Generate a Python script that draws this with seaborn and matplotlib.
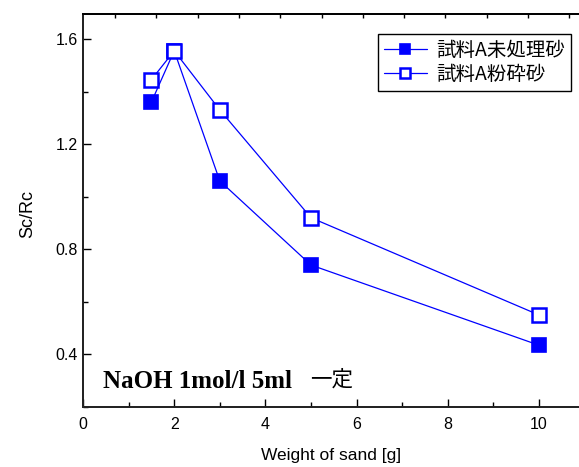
import numpy as np
import pandas as pd
import matplotlib
matplotlib.use("Agg")
import matplotlib.pyplot as plt
import seaborn as sns
from matplotlib.ticker import MultipleLocator

# data
sand_weight = [1.5, 2, 3, 5, 10]
untreated = [1.36, 1.555, 1.06, 0.74, 0.435]
crushed = [1.445, 1.555, 1.33, 0.92, 0.55]
label_untreated = "試料A未処理砂"
label_crushed = "試料A粉砕砂"
note_text = "NaOH 1mol/l 5ml"
note_jp = "一定"

sns.set_theme(style="ticks")
plt.rcParams['font.family'] = ['Liberation Sans', 'Noto Sans CJK JP', 'DejaVu Sans']
plt.rcParams['text.color'] = "black"
plt.rcParams['axes.labelcolor'] = "black"

fig = plt.figure(figsize=(5.79, 4.67), dpi=100)
ax = fig.add_axes([83 / 579, 1 - 407 / 467, 1 - 83 / 579, (407 - 14) / 467])

blue = "#0000ff"
sns.lineplot(x=sand_weight, y=untreated, ax=ax, color=blue, lw=0.9,
             marker="s", markersize=10, markerfacecolor=blue,
             markeredgecolor=blue, markeredgewidth=1.2, label=label_untreated)
sns.lineplot(x=sand_weight, y=crushed, ax=ax, color=blue, lw=0.9,
             marker="s", markersize=10, markerfacecolor="white",
             markeredgecolor=blue, markeredgewidth=1.8, label=label_crushed)

ax.set_xlim(0, (579 - 83) / 45.6)
ax.set_ylim(0.2, 1.695)
ax.xaxis.set_minor_locator(MultipleLocator(1))
ax.yaxis.set_minor_locator(MultipleLocator(0.2))
ax.set_yticks([0.4, 0.8, 1.2, 1.6])
ax.set_xticks([0, 2, 4, 6, 8, 10])
ax.set_xticklabels(["0", "2", "4", "6", "8", "10"])
ax.tick_params(which="major", direction="in", length=6, width=1, labelsize=11.5,
               colors="black", top=False, right=False)
ax.tick_params(which="minor", direction="in", length=3.5, width=1,
               colors="black", top=False, right=False)
ax.tick_params(axis="x", pad=7)

for s in ["left", "bottom", "top"]:
    ax.spines[s].set_linewidth(1.3)
    ax.spines[s].set_color("black")
ax.spines["right"].set_visible(False)

# top axis with its own small ticks
ax2 = ax.twiny()
ax2.set_xlim(-32 / 41.3, -32 / 41.3 + (579 - 83) / 41.3)
ax2.xaxis.set_major_locator(MultipleLocator(1))
ax2.tick_params(axis="x", direction="in", length=3, width=1, labeltop=False,
                colors="black")
ax2.spines["right"].set_visible(False)
ax2.spines["top"].set_linewidth(1.3)
ax2.spines["top"].set_color("black")

ax.set_xlabel("Weight of sand [g]", fontsize=12.5, labelpad=12)
ax.set_ylabel("Sc/Rc", fontsize=13)
ax.yaxis.set_label_coords(-0.095, (407 - 214) / 393)

fig.text(103 / 579, 1 - 381 / 467, note_text, fontsize=18,
         family="Liberation Serif", fontweight="bold", va="center", ha="left")
fig.text(310 / 579, 1 - 380 / 467, note_jp, fontsize=15.5,
         family="Noto Sans CJK JP", va="center", ha="left")

leg = ax.legend(loc="upper right", bbox_to_anchor=(571 / 579, 1 - 34 / 467),
                bbox_transform=fig.transFigure, frameon=True, fancybox=False,
                edgecolor="black", fontsize=14, handlelength=2.2,
                handletextpad=0.5, borderpad=0.3, labelspacing=0.15,
                borderaxespad=0, markerscale=0.75)
leg.get_frame().set_linewidth(1.0)
leg.get_frame().set_alpha(1)
for t in leg.get_texts():
    t.set_family(["Noto Sans CJK JP", "DejaVu Sans"])

fig.savefig("out.png", dpi=100)
